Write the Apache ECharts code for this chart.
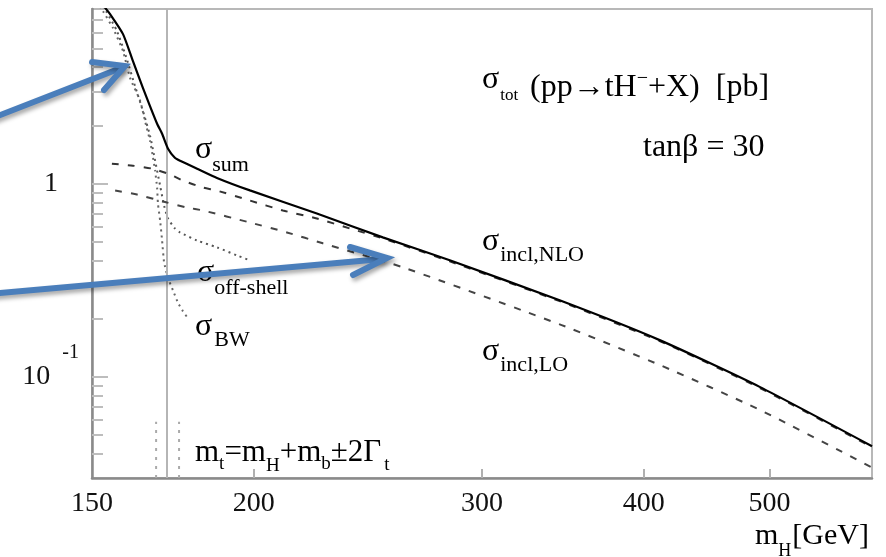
<!DOCTYPE html>
<html><head><meta charset="utf-8">
<script src="https://cdn.jsdelivr.net/npm/echarts@6/dist/echarts.min.js"></script>
<style>html,body{margin:0;padding:0;background:#fff}#c{width:886px;height:557px}</style>
</head><body><div id="c"></div>
<script>
// ---- data ----
const xLabelValues = [150, 200, 300, 400, 500];
const xTickValues = [200, 300, 400, 500];
const yMajorValues = [0.1, 1];
const yMinorValues = [0.04, 0.05, 0.06, 0.07, 0.08, 0.09, 0.2, 0.3, 0.4, 0.5, 0.6, 0.7, 0.8, 0.9, 2, 3, 4, 5, 6, 7];

const sumX = [153.2, 154.9, 158.5, 161.3, 164.2, 168.4, 169.9, 171.7, 173.8, 175.4, 180.8, 187.3, 198.6, 223.7, 251.5, 283.3, 344.4, 411.4, 491.4, 600];
const sumY = [8.27, 7.52, 5.93, 4.31, 3.13, 2.04, 1.81, 1.515, 1.361, 1.314, 1.195, 1.07, 0.922, 0.700, 0.527, 0.401, 0.249, 0.155, 0.0888, 0.0438];

const nloX = [155.4, 161.3, 166.9, 171.7, 176.3, 182.7, 187.3, 198.6, 210.6, 223.7, 237.2, 251.5, 283.3, 344.4, 411.4, 491.4, 600];
const nloY = [1.268, 1.238, 1.195, 1.126, 1.036, 0.954, 0.920, 0.817, 0.726, 0.660, 0.586, 0.521, 0.396, 0.2465, 0.1533, 0.0878, 0.0433];

const loX = [156.3, 162.5, 171.4, 177.6, 182.7, 198.6, 212.1, 226.1, 260.6, 345.6, 411.4, 491.4, 600];
const loY = [0.920, 0.878, 0.798, 0.752, 0.726, 0.629, 0.559, 0.491, 0.369, 0.1854, 0.1153, 0.0676, 0.0340];

const bwX = [152.1, 152.96, 155.7, 158.5, 160.5, 163.4, 165.1, 166.3, 167.2, 167.8, 168.4, 168.65, 169.3, 169.9, 170.5, 171.7, 173.2, 174.8, 176.3, 177.6];
const bwY = [8.27, 7.80, 6.37, 4.85, 3.52, 2.68, 2.014, 1.666, 1.361, 1.167, 0.954, 0.789, 0.645, 0.508, 0.392, 0.324, 0.281, 0.241, 0.219, 0.204];

const offX = [152.96, 153.8, 156.8, 159.3, 161.9, 164.2, 166.3, 167.8, 169.3, 170.5, 171.7, 173.8, 175.4, 180.8, 187.3, 194.1, 198.6];
const offY = [8.27, 7.80, 6.15, 4.57, 3.20, 2.378, 1.768, 1.314, 0.976, 0.770, 0.660, 0.586, 0.559, 0.508, 0.468, 0.425, 0.401];

const thresholdX = 171.4;          // m_H = m_t - m_b
const bandX = [168.1, 175.1];      // m_t = m_H + m_b ± 2Γ_t
const bandY = [0.03, 0.0586];

// ---- helpers ----
const pairs = (xs, ys) => xs.map((x, i) => [x, ys[i]]);
const FONT = '"Liberation Serif", "Times New Roman", serif';
const mctx = document.createElement('canvas').getContext('2d');
function tw(t, s) { mctx.font = s + 'px ' + FONT; return mctx.measureText(t).width; }
function txt(t, x, base, s, color) {
  const y = base - 0.32 * s;
  return { type: 'text', x: x, y: y, z: 50, silent: true,
    style: { text: t, font: s + 'px ' + FONT, fill: color || '#000',
      align: 'left', verticalAlign: 'middle', textAlign: 'left', textVerticalAlign: 'middle' } };
}
// sequence of pieces: [text, size, baseline, gapBefore]
function seq(x0, parts) {
  let x = x0; const out = [];
  parts.forEach(p => { x += (p[3] || 0); out.push(txt(p[0], x, p[2], p[1])); x += tw(p[0], p[1]); });
  return out;
}

const graphics = [].concat(
  seq(482, [['σ', 32, 90], ['tot', 17, 101, 1]]),
  seq(530, [['(pp→tH', 32, 98], ['−', 20, 85, 0], ['+X)  [pb]', 32, 98, 0]]),
  [txt('tanβ = 30', 643, 158, 32)],
  seq(195, [['σ', 32, 160], ['sum', 22, 172, 0]]),
  seq(482, [['σ', 32, 252], ['incl,NLO', 22, 262, 1]]),
  seq(482, [['σ', 32, 362], ['incl,LO', 22, 372, 1]]),
  seq(197, [['σ', 32, 283], ['off-shell', 22, 295, 0]]),
  seq(195, [['σ', 32, 337], ['BW', 22, 347, 2]]),
  seq(195, [['m', 31, 463], ['t', 19, 470], ['=m', 31, 463], ['H', 19, 472], ['+m', 31, 463], ['b', 19, 470], ['±2Γ', 31, 463], ['t', 19, 471, 3]]),
  seq(755, [['m', 30, 546], ['H', 18, 557], ['[GeV]', 30, 546, 1]])
);

const arrowStyle = { stroke: '#4a7ebb', lineWidth: 6, lineCap: 'round', lineJoin: 'miter', fill: null,
  shadowBlur: 4, shadowColor: 'rgba(0,0,0,0.35)', shadowOffsetX: 2, shadowOffsetY: 3 };
graphics.push(
  { type: 'line', z: 100, silent: true, shape: { x1: -10, y1: 119, x2: 121, y2: 68 }, style: arrowStyle },
  { type: 'polyline', z: 100, silent: true, shape: { points: [[92, 62], [125, 66], [104, 90]] }, style: arrowStyle },
  { type: 'line', z: 100, silent: true, shape: { x1: -10, y1: 294, x2: 382, y2: 259 }, style: arrowStyle },
  { type: 'polyline', z: 100, silent: true, shape: { points: [[350, 247], [387, 258], [353, 275]] }, style: arrowStyle }
);

const chart = echarts.init(document.getElementById('c'), null, { renderer: 'canvas' });
chart.setOption({
  animation: false,
  backgroundColor: '#fff',
  grid: { left: 92, right: 14, top: 9, bottom: 79, show: true, borderColor: '#b8b8b8', borderWidth: 2, backgroundColor: 'transparent' },
  xAxis: {
    type: 'log', logBase: 10, min: 150, max: 600,
    axisLine: { show: true, lineStyle: { color: '#8a8a8a', width: 2.5 } },
    axisTick: { show: true, inside: true, length: 9, customValues: xTickValues, lineStyle: { color: '#b0b0b0', width: 2 } },
    axisLabel: { customValues: xLabelValues, margin: 12, fontFamily: FONT, fontSize: 28, color: '#111',
      formatter: v => String(Math.round(v)) },
    splitLine: { show: false }, minorTick: { show: false }
  },
  yAxis: [{
    type: 'log', logBase: 10, min: 0.03, max: 8, position: 'left',
    axisLine: { show: true, lineStyle: { color: '#8a8a8a', width: 2.5 } },
    axisTick: { show: true, inside: true, length: 16, customValues: yMajorValues, lineStyle: { color: '#bdbdbd', width: 2 } },
    axisLabel: { customValues: yMajorValues, margin: 13, color: '#111',
      formatter: v => { const e = Math.round(Math.log10(v)); return e === 0 ? '{one|1}' : '{a|10}{s|' + e + '}'; },
      rich: {
        one: { fontFamily: FONT, fontSize: 28, color: '#111', padding: [0, 21, 0, 0], verticalAlign: 'middle' },
        a: { fontFamily: FONT, fontSize: 28, color: '#111', verticalAlign: 'middle' },
        s: { fontFamily: FONT, fontSize: 20, color: '#111', padding: [0, 0, 48, 12], verticalAlign: 'middle' }
      } },
    splitLine: { show: false }
  }, {
    type: 'log', logBase: 10, min: 0.03, max: 8, position: 'left',
    axisLine: { show: false },
    axisTick: { show: true, inside: true, length: 11, customValues: yMinorValues, lineStyle: { color: '#bdbdbd', width: 2 } },
    axisLabel: { show: false },
    splitLine: { show: false }
  }],
  graphic: graphics,
  series: [
    { type: 'line', name: 'sum', data: pairs(sumX, sumY), symbol: 'none', smooth: 0.2, z: 6,
      lineStyle: { color: '#000', width: 2.2 },
      markLine: { silent: true, symbol: 'none', label: { show: false }, animation: false,
        lineStyle: { color: '#b5b5b5', width: 2, type: 'solid' }, data: [{ xAxis: thresholdX }] } },
    { type: 'line', name: 'incl,NLO', data: pairs(nloX, nloY), symbol: 'none', smooth: 0.2, z: 5,
      lineStyle: { color: '#333', width: 2, type: [7, 9] } },
    { type: 'line', name: 'incl,LO', data: pairs(loX, loY), symbol: 'none', smooth: 0.2, z: 5,
      lineStyle: { color: '#444', width: 2, type: [7, 9] } },
    { type: 'line', name: 'off-shell', data: pairs(offX, offY), symbol: 'none', smooth: 0.2, z: 4,
      lineStyle: { color: '#555', width: 2, type: [2, 4] } },
    { type: 'line', name: 'BW', data: pairs(bwX, bwY), symbol: 'none', smooth: 0.15, z: 4,
      lineStyle: { color: '#666', width: 2, type: [2, 4] } },
    { type: 'line', name: 'band-lo', data: [[bandX[0], bandY[0]], [bandX[0], bandY[1]]], symbol: 'none', z: 3,
      lineStyle: { color: '#aaa', width: 2, type: [3, 6] } },
    { type: 'line', name: 'band-hi', data: [[bandX[1], bandY[0]], [bandX[1], bandY[1]]], symbol: 'none', z: 3,
      lineStyle: { color: '#aaa', width: 2, type: [3, 6] } }
  ]
});
</script></body></html>
